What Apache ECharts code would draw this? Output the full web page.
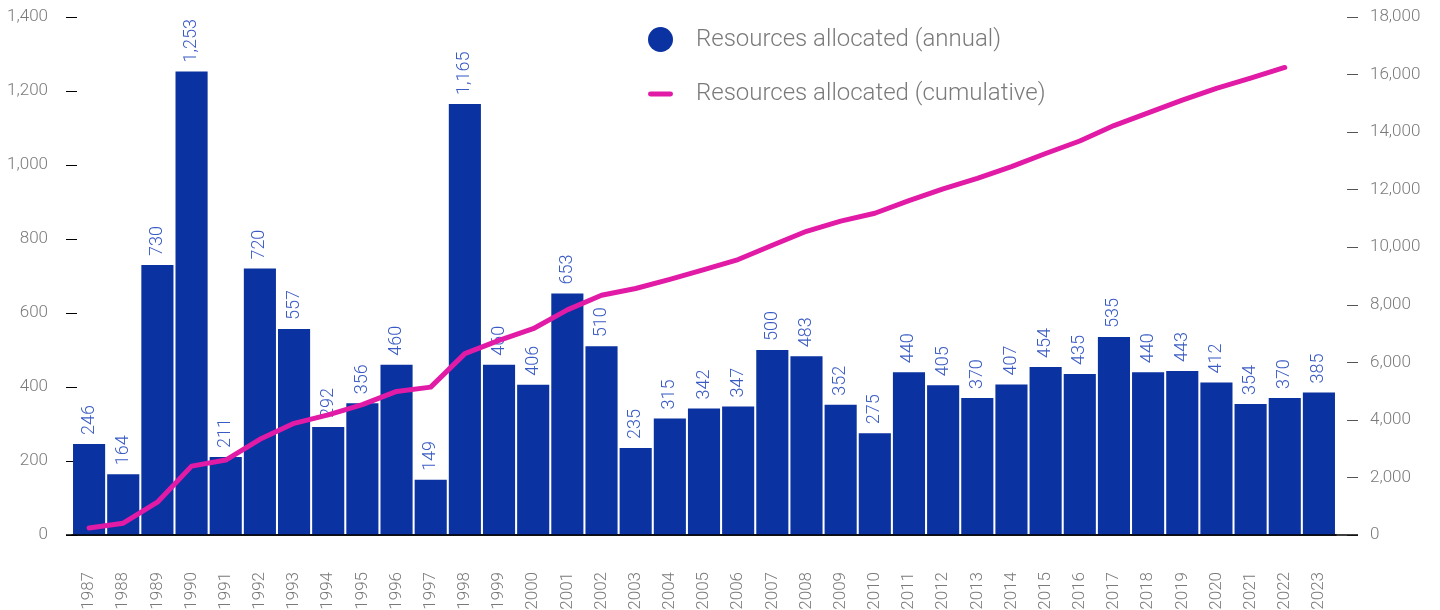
<!DOCTYPE html>
<html>
<head>
<meta charset="utf-8">
<script src="https://cdn.jsdelivr.net/npm/echarts@6/dist/echarts.min.js"></script>
<style>
  html, body { margin: 0; padding: 0; background: #fff; }
  #main { width: 1440px; height: 610px; }
</style>
</head>
<body>
<div id="main"></div>
<script>
var years = ['1987','1988','1989','1990','1991','1992','1993','1994','1995','1996',
  '1997','1998','1999','2000','2001','2002','2003','2004','2005','2006','2007','2008',
  '2009','2010','2011','2012','2013','2014','2015','2016','2017','2018','2019','2020',
  '2021','2022','2023'];
var annual = [246, 164, 730, 1253, 211, 720, 557, 292, 356, 460, 149, 1165, 460, 406,
  653, 510, 235, 315, 342, 347, 500, 483, 352, 275, 440, 405, 370, 407, 454, 435, 535,
  440, 443, 412, 354, 370, 385];
var cumulative = [246, 410, 1140, 2393, 2604, 3324, 3881, 4173, 4529, 4989, 5138, 6303,
  6763, 7169, 7822, 8332, 8567, 8882, 9224, 9571, 10071, 10554, 10906, 11181, 11621,
  12026, 12396, 12803, 13257, 13692, 14227, 14667, 15110, 15522, 15876, 16246];

var blue = '#0a32a0';
var pink = '#e21ba6';
var grey = '#7a7a7a';
var font = 'Roboto';

var myChart = echarts.init(document.getElementById('main'));

var option = {
  animation: false,
  textStyle: { fontFamily: font },
  grid: { left: 72, right: 104, top: 17, bottom: 75, containLabel: false, outerBoundsMode: 'none' },
  legend: {
    orient: 'vertical',
    left: 643,
    top: 22,
    itemGap: 30,
    itemWidth: 25,
    itemHeight: 25,
    textStyle: { fontSize: 24, color: grey, fontWeight: 300, fontFamily: font, padding: [0, 0, 0, 18] },
    data: [
      { name: 'Resources allocated (annual)', icon: 'circle' },
      { name: 'Resources allocated (cumulative)', icon: 'path://M2,10 L23,10 A2.5,2.5 0 0 1 23,15 L2,15 A2.5,2.5 0 0 1 2,10 Z' }
    ]
  },
  xAxis: {
    type: 'category',
    data: years,
    axisLine: { lineStyle: { color: '#000', width: 1.5 } },
    axisTick: { show: false },
    axisLabel: { rotate: 90, color: grey, fontSize: 17, fontWeight: 300, margin: 37, interval: 0 }
  },
  yAxis: [
    {
      type: 'value', min: 0, max: 1400, interval: 200, offset: 6,
      splitLine: { show: false },
      axisLine: { show: false },
      axisTick: { show: true, inside: true, length: 11, lineStyle: { color: '#000' } },
      axisLabel: {
        color: grey, fontSize: 17, fontWeight: 300, margin: 18,
        formatter: function (v) { return v.toLocaleString('en-US'); }
      }
    },
    {
      type: 'value', min: 0, max: 18000, interval: 2000, offset: 22, position: 'right',
      splitLine: { show: false },
      axisLine: { show: false },
      axisTick: { show: true, inside: true, length: 11, lineStyle: { color: '#555' } },
      axisLabel: {
        color: grey, fontSize: 17, fontWeight: 300, margin: 12,
        formatter: function (v) { return v.toLocaleString('en-US'); }
      }
    }
  ],
  series: [
    {
      name: 'Resources allocated (annual)',
      type: 'bar',
      data: annual,
      barCategoryGap: '6%',
      itemStyle: { color: blue },
      label: {
        show: true, position: 'top', rotate: 90, align: 'left', verticalAlign: 'middle',
        distance: 9, color: '#3a5bc4', fontSize: 18, fontWeight: 300,
        formatter: function (p) { return p.value.toLocaleString('en-US'); }
      }
    },
    {
      name: 'Resources allocated (cumulative)',
      type: 'line',
      yAxisIndex: 1,
      data: cumulative,
      symbol: 'none',
      z: 5,
      itemStyle: { color: pink },
      lineStyle: { color: pink, width: 5, cap: 'round', join: 'round' }
    }
  ]
};

myChart.setOption(option);

// extend the baseline past the bars, to the tick marks on both sides
var y0 = myChart.convertToPixel({ yAxisIndex: 0 }, 0);
myChart.setOption({
  graphic: [{
    type: 'line', z: 10,
    shape: { x1: 66, y1: y0, x2: 1358, y2: y0 },
    style: { stroke: '#000', lineWidth: 1.5 }
  }]
});
</script>
</body>
</html>
